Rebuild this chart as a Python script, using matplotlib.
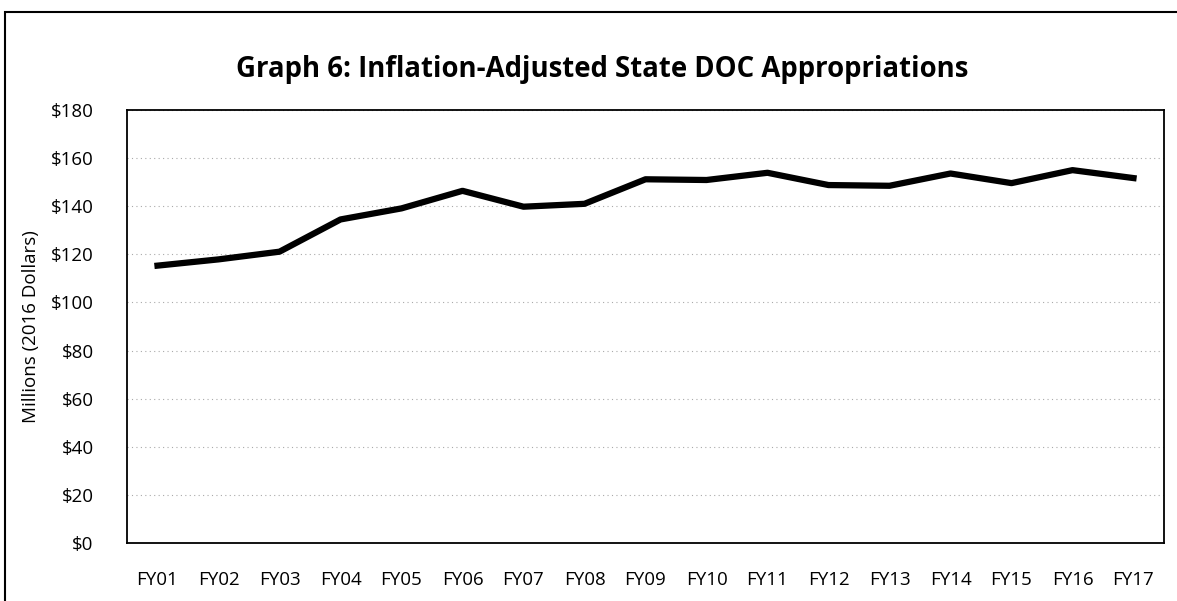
import numpy as np
import matplotlib
matplotlib.use('Agg')
import matplotlib.pyplot as plt
from matplotlib.patches import Rectangle

# Data
years = ['FY01', 'FY02', 'FY03', 'FY04', 'FY05', 'FY06', 'FY07', 'FY08', 'FY09',
         'FY10', 'FY11', 'FY12', 'FY13', 'FY14', 'FY15', 'FY16', 'FY17']
approps = [115.3, 117.9, 121.1, 134.5, 139.1, 146.4, 139.8, 141.0, 151.2,
           150.9, 153.9, 148.8, 148.5, 153.6, 149.6, 155.0, 151.7]
yticks = [0, 20, 40, 60, 80, 100, 120, 140, 160, 180]

plt.rcParams['font.family'] = ['Open Sans', 'DejaVu Sans']

fig = plt.figure(figsize=(11.77, 6.01), dpi=100)
ax = fig.add_axes([127/1177, 58/601, (1164-127)/1177, (543-110)/601])

x = np.arange(len(years))
ax.plot(x, approps, color='black', linewidth=4.5, solid_joinstyle='round')

ax.set_xlim(-0.5, len(years) - 0.5)
ax.set_ylim(0, 180)
ax.set_yticks(yticks)
ax.set_yticklabels(['$%d' % v for v in yticks], fontsize=13.5)
ax.set_xticks(x)
ax.set_xticklabels(years, fontsize=13.5)
ax.tick_params(axis='y', length=0, pad=24)
ax.tick_params(axis='x', length=0, pad=20)

ax.grid(axis='y', color='#aaaaaa', linestyle=(0, (1, 3)), linewidth=0.8)
ax.set_axisbelow(True)
for s in ax.spines.values():
    s.set_linewidth(1.3)
    s.set_color('black')

ax.set_ylabel('Millions (2016 Dollars)', fontsize=13.5, labelpad=8)

fig.text(602/1177, 1 - 70/601, 'Graph 6: Inflation-Adjusted State DOC Appropriations',
         ha='center', va='center', fontsize=19.8, fontweight='bold')

# outer frame of the chart
fig.patches.append(Rectangle((5/1177, -0.05), 1.1, 1.05 - 12/601,
                             transform=fig.transFigure, fill=False,
                             edgecolor='black', linewidth=1.5))

fig.savefig('out.png', dpi=100)
